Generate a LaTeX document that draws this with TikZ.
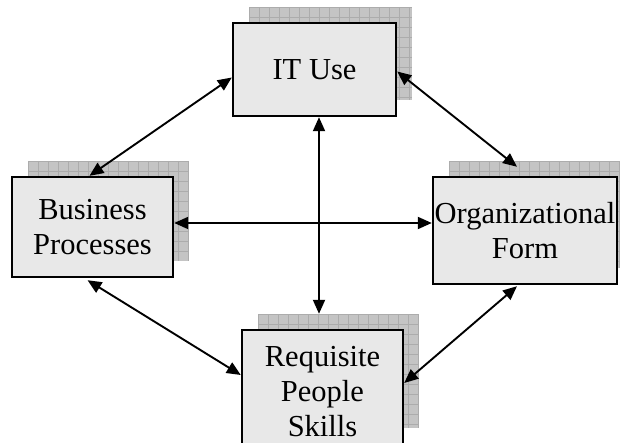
\documentclass[tikz,border=0pt]{standalone}
\usepackage{fontspec}
\setmainfont{Liberation Serif}
\usetikzlibrary{arrows.meta,calc}

\definecolor{boxfill}{HTML}{E8E8E8}
\definecolor{shadefill}{HTML}{C4C4C4}
\definecolor{shadeline}{HTML}{ACACAC}

\tikzset{
  box/.style={draw=black, line width=2.4pt, fill=boxfill, align=center,
    inner sep=0pt, font=\fontsize{30.5}{35}\selectfont},
  shade/.style={fill=shadefill, inner sep=0pt,
    path picture={
      \foreach \i in {0,10,...,200}{
        \draw[shadeline, line width=0.7pt]
          ([xshift=\i pt]path picture bounding box.north west) --
          ([xshift=\i pt]path picture bounding box.south west);
        \draw[shadeline, line width=0.7pt]
          ([yshift=-\i pt]path picture bounding box.north west) --
          ([yshift=-\i pt]path picture bounding box.north east);
      }}},
  link/.style={line width=1.9pt,
    {Triangle[length=14pt,width=12pt]}-{Triangle[length=14pt,width=12pt]}},
}

\begin{document}
\begin{tikzpicture}[x=1pt,y=-1pt]
  \useasboundingbox (0,0) rectangle (620,443);
  \clip (0,0) rectangle (620,443);

  % drop shadows
  \node[shade, minimum width=163pt, minimum height=93pt]  (itS)  at (330.5, 53.5) {};
  \node[shade, minimum width=161pt, minimum height=100pt] (bpS)  at (108.5, 211) {};
  \node[shade, minimum width=184pt, minimum height=107pt] (orgS) at (541, 214.5) {};
  \node[shade, minimum width=161pt, minimum height=114pt] (rqS)  at (338.5, 371) {};

  % boxes
  \node[box, minimum width=163pt, minimum height=93pt]  (it)  at (314.5, 69.5) {IT Use};
  \node[box, minimum width=161pt, minimum height=100pt] (bp)  at (92.5, 227) {Business\\Processes};
  \node[box, minimum width=184pt, minimum height=107pt] (org) at (525, 230.5) {Organizational\\Form};
  \node[box, minimum width=161pt, minimum height=114pt] (rq)  at (322.5, 387) {};
  \node[font=\fontsize{30.5}{35}\selectfont, align=center, inner sep=0pt]
    (rqT) at (322.5, 392) {Requisite\\People\\Skills};

  % connectors
  \draw[link] ([xshift=-3pt]bp.north) -- ([yshift=-8pt]it.west);
  \draw[link] ([yshift=-2pt]it.east) -- ([xshift=-8pt,yshift=9pt]org.north);
  \draw[link] ([yshift=4pt]bp.east) -- ([yshift=4pt]bp.east -| org.west);
  \draw[link] ([xshift=4.5pt]it.south) -- ([xshift=4.5pt]it.south |- rqS.north);
  \draw[link] ([xshift=-5pt,yshift=-2pt]bp.south) -- ([yshift=12pt]rq.west);
  \draw[link] ([xshift=-8pt,yshift=-1pt]org.south) -- ([yshift=4pt]rq.east);
\end{tikzpicture}
\end{document}
